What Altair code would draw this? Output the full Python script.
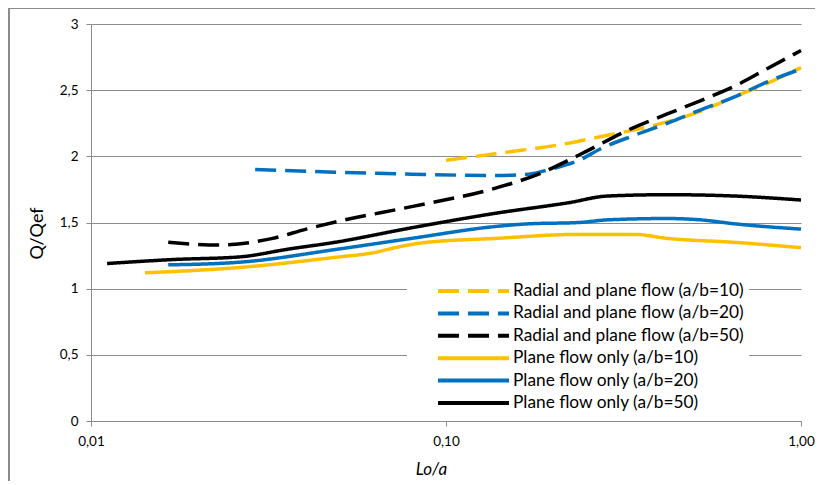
import altair as alt
import pandas as pd

# ---- data ----
series_names = [
    "Radial and plane flow (a/b=10)",
    "Radial and plane flow (a/b=20)",
    "Radial and plane flow (a/b=50)",
    "Plane flow only (a/b=10)",
    "Plane flow only (a/b=20)",
    "Plane flow only (a/b=50)",
]
series_colors = ["#FFC000", "#0070C0", "#000000", "#FFC000", "#0070C0", "#000000"]
series_dashes = [[21, 9], [21, 9], [21, 9], [1, 0], [1, 0], [1, 0]]

radial10_x = [0.1, 0.138, 0.222, 0.274, 0.34, 0.42, 0.52, 0.65, 0.80, 1.0]
radial10_y = [1.97, 2.02, 2.10, 2.15, 2.20, 2.26, 2.34, 2.45, 2.55, 2.67]

radial20_x = [0.029, 0.0486, 0.080, 0.138, 0.171, 0.195, 0.237, 0.274, 0.34, 0.42, 0.52, 0.65, 0.80, 1.0]
radial20_y = [1.90, 1.88, 1.865, 1.855, 1.865, 1.90, 1.97, 2.06, 2.16, 2.25, 2.35, 2.45, 2.56, 2.66]

radial50_x = [0.0165, 0.0229, 0.0325, 0.0404, 0.050, 0.080, 0.138, 0.18, 0.237, 0.333, 0.42, 0.52, 0.65, 0.80, 1.0]
radial50_y = [1.35, 1.33, 1.38, 1.45, 1.51, 1.62, 1.76, 1.86, 2.01, 2.21, 2.32, 2.42, 2.53, 2.66, 2.80]

plane10_x = [0.0142, 0.0262, 0.050, 0.062, 0.072, 0.085, 0.138, 0.237, 0.34, 0.42, 0.65, 1.0]
plane10_y = [1.12, 1.16, 1.24, 1.27, 1.31, 1.345, 1.38, 1.41, 1.41, 1.38, 1.35, 1.31]

plane20_x = [0.0165, 0.0262, 0.050, 0.080, 0.138, 0.171, 0.237, 0.285, 0.42, 0.52, 0.65, 1.0]
plane20_y = [1.18, 1.20, 1.30, 1.38, 1.47, 1.49, 1.50, 1.52, 1.53, 1.52, 1.49, 1.45]

plane50_x = [0.0111, 0.017, 0.0262, 0.0362, 0.0486, 0.080, 0.138, 0.222, 0.285, 0.42, 0.65, 1.0]
plane50_y = [1.19, 1.22, 1.24, 1.30, 1.35, 1.46, 1.57, 1.65, 1.70, 1.71, 1.70, 1.67]

x_ticks = [0.01, 0.1, 1.0]
y_ticks = [0, 0.5, 1, 1.5, 2, 2.5, 3]

all_x = [radial10_x, radial20_x, radial50_x, plane10_x, plane20_x, plane50_x]
all_y = [radial10_y, radial20_y, radial50_y, plane10_y, plane20_y, plane50_y]

rows = []
for name, xs, ys in zip(series_names, all_x, all_y):
    for i, (xv, yv) in enumerate(zip(xs, ys)):
        rows.append({"series": name, "x": xv, "y": yv, "order": i})
df = pd.DataFrame(rows)

FONT = "Lato"
GREY = "#8c8c8c"

legend_cfg = alt.Legend(
    title=None,
    orient="none",
    legendX=316,
    legendY=251,
    fillColor="white",
    padding=5,
    symbolType="stroke",
    symbolSize=5041,
    symbolStrokeWidth=4,
    symbolOffset=24,
    clipHeight=22,
    labelFont=FONT,
    labelFontSize=17.3,
    labelColor="#000000",
    labelLimit=400,
    rowPadding=0.4,
    labelOffset=2,
)

lines = alt.Chart(df).mark_line(strokeWidth=3.5, interpolate="monotone").encode(
    x=alt.X(
        "x:Q",
        scale=alt.Scale(type="log", domain=[0.01, 1]),
        axis=alt.Axis(
            values=x_ticks,
            labelExpr="replace(format(datum.value, '.2f'), '.', ',')",
            labelFlush=False,
            grid=False,
            title="Lo/a",
            titleFontStyle="italic",
            titleFontWeight="normal",
            titleFont=FONT,
            titleFontSize=17,
            titleX=340,
            titleY=48,
            titleBaseline="middle",
            titleAlign="center",
            labelPadding=8,
        ),
    ),
    y=alt.Y(
        "y:Q",
        scale=alt.Scale(domain=[0, 3]),
        axis=alt.Axis(
            values=y_ticks,
            labelExpr="replace(format(datum.value, '~g'), '.', ',')",
            grid=True,
            title="Q/Qef",
            titleFontWeight="normal",
            titleFont=FONT,
            titleFontSize=18,
            titleX=-54,
            titleY=209,
            titleAlign="center",
            titleBaseline="middle",
            labelPadding=8,
        ),
    ),
    color=alt.Color("series:N", scale=alt.Scale(domain=series_names, range=series_colors), legend=legend_cfg),
    strokeDash=alt.StrokeDash("series:N", scale=alt.Scale(domain=series_names, range=series_dashes), legend=legend_cfg),
    order="order:Q",
)

border_v = alt.Chart(df).mark_rule(color=GREY, strokeWidth=1).encode(
    x=alt.value(-82), y=alt.value(-16), y2=alt.value(480)
)
border_h = alt.Chart(df).mark_rule(color=GREY, strokeWidth=1).encode(
    x=alt.value(-82), x2=alt.value(740), y=alt.value(-15.5)
)

chart = alt.layer(lines, border_v, border_h).properties(
    width=710,
    height=397,
    autosize=alt.AutoSizeParams(type="none"),
    padding={"left": 83, "top": 16, "right": 14, "bottom": 60},
).configure_view(stroke=None).configure_axis(
    domainColor=GREY,
    tickColor=GREY,
    gridColor=GREY,
    gridWidth=1,
    domainWidth=1,
    tickSize=5,
    labelFont=FONT,
    labelFontSize=13.5,
    labelColor="#000000",
    titleColor="#000000",
)

chart.save("out.html", embed_options={"renderer": "svg", "actions": False})
